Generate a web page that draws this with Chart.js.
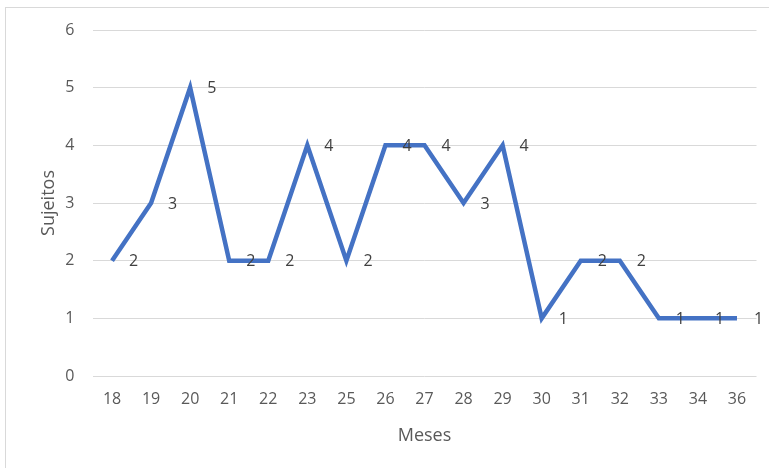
<!DOCTYPE html>
<html>
<head>
<meta charset="utf-8">
<script src="https://cdn.jsdelivr.net/npm/chart.js@4"></script>
<style>
  html, body { margin: 0; padding: 0; background: #fff; }
  #wrap { position: relative; width: 769px; height: 468px; overflow: hidden; }
  #frame { position: absolute; left: 5px; top: 7px; width: 800px; height: 500px; border: 1px solid #d9d9d9; box-sizing: border-box; }
  #c { position: absolute; left: 0; top: 0; }
</style>
</head>
<body>
<div id="wrap">
  <div id="frame"></div>
  <canvas id="c" width="769" height="468"></canvas>
</div>
<script>
const meses = ['18','19','20','21','22','23','25','26','27','28','29','30','31','32','33','34','36'];
const sujeitos = [2, 3, 5, 2, 2, 4, 2, 4, 4, 3, 4, 1, 2, 2, 1, 1, 1];
const yTicks = [0, 1, 2, 3, 4, 5, 6];

const FONT = "'Open Sans', 'Liberation Sans', sans-serif";

// Value labels placed to the right of each point
const pointLabels = {
  id: 'pointLabels',
  afterDatasetsDraw(chart) {
    const ctx = chart.ctx;
    const meta = chart.getDatasetMeta(0);
    ctx.save();
    ctx.font = '16px ' + FONT;
    ctx.fillStyle = '#404040';
    ctx.textAlign = 'left';
    ctx.textBaseline = 'middle';
    meta.data.forEach((pt, i) => {
      ctx.fillText(String(sujeitos[i]), pt.x + 17, pt.y + 1);
    });
    ctx.restore();
  }
};

new Chart(document.getElementById('c'), {
  type: 'line',
  data: {
    labels: meses,
    datasets: [{
      data: sujeitos,
      borderColor: '#4472C4',
      borderWidth: 4.5,
      pointRadius: 0,
      tension: 0,
      fill: false,
      borderJoinStyle: 'miter'
    }]
  },
  options: {
    responsive: false,
    animation: false,
    devicePixelRatio: 1,
    layout: { padding: { top: 30, right: 12.5, left: 38, bottom: 0 } },
    plugins: { legend: { display: false }, tooltip: { enabled: false } },
    scales: {
      x: {
        offset: true,
        grid: { display: false, drawTicks: false },
        border: { display: false },
        ticks: { color: '#595959', font: { family: FONT, size: 16 }, padding: 14, maxRotation: 0, autoSkip: false },
        title: { display: true, text: 'Meses', color: '#595959', font: { family: FONT, size: 18 }, padding: { top: 0, bottom: 21 } },
        afterFit(s) { s.height = 92; }
      },
      y: {
        min: 0, max: 6,
        afterBuildTicks(s) { s.ticks = yTicks.map(v => ({ value: v })); },
        grid: { color: '#d9d9d9', lineWidth: 1, drawTicks: false },
        border: { display: false },
        ticks: { color: '#595959', font: { family: FONT, size: 16 }, padding: 18 },
        title: { display: true, text: 'Sujeitos', color: '#595959', font: { family: FONT, size: 18 }, padding: { top: 0, bottom: 0 } },
        afterFit(s) { s.width = 54.5; }
      }
    }
  },
  plugins: [pointLabels]
});
</script>
</body>
</html>
